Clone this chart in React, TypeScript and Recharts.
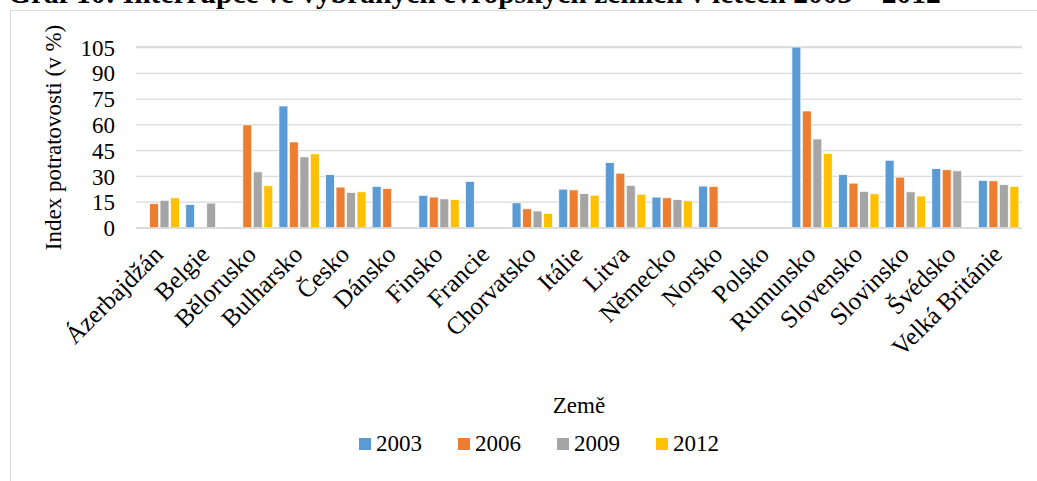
import React from 'react';
import { BarChart, Bar, XAxis, YAxis, CartesianGrid, Legend } from 'recharts';

const countries = [
  'Ázerbajdžán', 'Belgie', 'Bělorusko', 'Bulharsko', 'Česko', 'Dánsko', 'Finsko',
  'Francie', 'Chorvatsko', 'Itálie', 'Litva', 'Německo', 'Norsko', 'Polsko',
  'Rumunsko', 'Slovensko', 'Slovinsko', 'Švédsko', 'Velká Británie',
];

const y2003 = [null, 13.7, null, 71.0, 31.1, 24.2, 19.0, 27.1, 14.7, 22.6, 38.1, 18.0, 24.4, null, 105.3, 31.1, 39.4, 34.6, 27.7];
const y2006 = [14.2, null, 60.0, 50.1, 23.8, 23.0, 18.0, null, 11.2, 22.2, 31.9, 17.6, 24.2, null, 68.1, 26.1, 29.6, 33.9, 27.5];
const y2009 = [16.1, 14.5, 32.7, 41.4, 20.7, null, 17.0, null, 9.9, 20.1, 24.8, 16.6, null, null, 51.8, 21.3, 21.1, 33.3, 25.3];
const y2012 = [17.6, null, 24.6, 43.2, 21.1, null, 16.6, null, 8.5, 19.1, 19.7, 15.9, null, null, 43.3, 19.9, 18.6, null, 24.2];

const yTicks = [0, 15, 30, 45, 60, 75, 90, 105];

const series = [
  { key: '2003', color: '#5B9BD5' },
  { key: '2006', color: '#ED7D31' },
  { key: '2009', color: '#A5A5A5' },
  { key: '2012', color: '#FFC000' },
];

const data = countries.map((name, i) => ({
  name,
  '2003': y2003[i],
  '2006': y2006[i],
  '2009': y2009[i],
  '2012': y2012[i],
}));

const FONT = '"Liberation Serif", "Times New Roman", serif';

const CountryTick = (props: any) => {
  const { x, y, payload } = props;
  const tx = x + 5;
  const ty = y + 28;
  return (
    <text
      x={tx}
      y={ty}
      transform={`rotate(-45, ${tx}, ${ty})`}
      textAnchor="end"
      fontFamily={FONT}
      fontSize={25}
      fill="#000"
    >
      {payload.value}
    </text>
  );
};

// legend is placed by hand, so it must not take space from the plot
const LegendBox = () => (
  <div style={{ height: 0, overflow: 'visible' }}>
    <div style={{ display: 'flex', gap: 36, paddingLeft: 359, fontFamily: FONT, fontSize: 23, color: '#000' }}>
      {series.map((s) => (
        <div key={s.key} style={{ display: 'flex', alignItems: 'center' }}>
          <span style={{ width: 12, height: 12, background: s.color, marginRight: 5, display: 'inline-block' }} />
          <span>{s.key}</span>
        </div>
      ))}
    </div>
  </div>
);

export default function App() {
  return (
    <div style={{ position: 'absolute', left: 0, top: 0, width: 1037, height: 481, overflow: 'hidden', background: '#fff' }}>
      <div
        style={{
          position: 'absolute', left: 8, top: -21, whiteSpace: 'nowrap',
          fontFamily: FONT, fontWeight: 'bold', fontSize: 29.5, lineHeight: '29.5px', color: '#000',
        }}
      >
        Graf 10: Interrupce ve vybraných evropských zemích v letech 2003 – 2012
      </div>
      <div
        style={{
          position: 'absolute', left: 10, top: 10, width: 1040, height: 490,
          border: '1.5px solid #D9D9D9', boxSizing: 'border-box',
        }}
      />
      <div style={{ position: 'absolute', left: 0, top: 0 }}>
        <BarChart
          width={1037}
          height={481}
          data={data}
          margin={{ top: 47, right: 15, left: 0, bottom: 0 }}
          barSize={9}
          barGap={1.5}
        >
          <CartesianGrid vertical={false} stroke="#D9D9D9" strokeWidth={1.3} />
          <XAxis
            dataKey="name"
            interval={0}
            height={253}
            tickSize={0}
            tickMargin={0}
            axisLine={{ stroke: '#D9D9D9', strokeWidth: 1.3 }}
            tickLine={false}
            tick={<CountryTick />}
            label={{
              value: 'Země', position: 'insideBottom', offset: 68,
              style: { fontFamily: FONT, fontSize: 23, fill: '#000' },
            }}
          />
          <YAxis
            width={136}
            domain={[0, 105]}
            ticks={yTicks}
            interval={0}
            axisLine={false}
            tickLine={false}
            tickSize={0}
            tickMargin={21}
            tick={{ fontFamily: FONT, fontSize: 23, fill: '#000' }}
            label={{
              value: 'Index potratovosti (v %)', angle: -90, position: 'insideLeft', offset: 53,
              style: { textAnchor: 'middle', fontFamily: FONT, fontSize: 23, fill: '#000' },
            }}
          />
          <Legend
            verticalAlign="top"
            align="left"
            content={<LegendBox />}
            wrapperStyle={{ top: 431, left: 0, width: 1037, height: 0 }}
          />
          {series.map((s) => (
            <Bar
              key={s.key}
              dataKey={s.key}
              fill={s.color}
              stroke="#fff"
              strokeWidth={0.8}
              isAnimationActive={false}
            />
          ))}
        </BarChart>
      </div>
    </div>
  );
}
